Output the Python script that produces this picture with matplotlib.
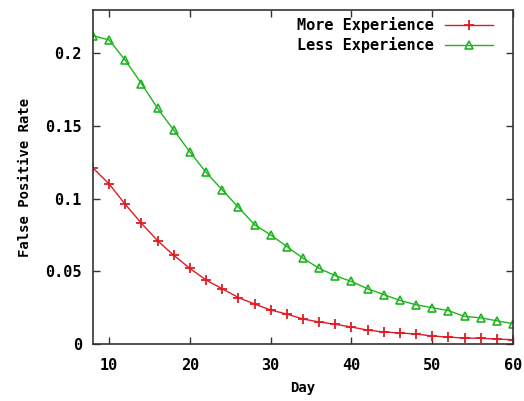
import matplotlib
matplotlib.use("Agg")
import matplotlib.pyplot as plt

days = list(range(8, 61, 2))
more_exp = [0.121, 0.110, 0.096, 0.083, 0.071, 0.061, 0.052, 0.044, 0.038, 0.032,
            0.0275, 0.0234, 0.0206, 0.0172, 0.0152, 0.0136, 0.0117, 0.0096, 0.0083,
            0.0076, 0.0069, 0.0055, 0.0048, 0.0041, 0.0040, 0.0034, 0.0030]
less_exp = [0.212, 0.209, 0.195, 0.179, 0.162, 0.147, 0.132, 0.118, 0.106, 0.094,
            0.082, 0.075, 0.067, 0.059, 0.052, 0.047, 0.043, 0.038, 0.034,
            0.030, 0.027, 0.025, 0.023, 0.019, 0.018, 0.016, 0.014]

yticks = [0, 0.05, 0.1, 0.15, 0.2]
ytick_labels = ["0", "0.05", "0.1", "0.15", "0.2"]
xticks = [10, 20, 30, 40, 50, 60]

plt.rcParams['font.family'] = ['DejaVu Sans Mono']
plt.rcParams['font.weight'] = 'bold'
plt.rcParams['font.size'] = 11

fig = plt.figure(figsize=(5.24, 4.01), dpi=100)
ax = fig.add_axes([0.1775, 0.142, 0.8015, 0.833])

ax.plot(days, more_exp, color='#e01b24', lw=1, marker='+', ms=7, mew=1.3,
        label='More Experience')
ax.plot(days, less_exp, color='#1fb51f', lw=1, marker='^', ms=6, mew=1.2,
        mfc='none', label='Less Experience')

ax.set_xlim(8, 60)
ax.set_ylim(0, 0.2296)
ax.set_xticks(xticks)
ax.set_yticks(yticks)
ax.set_yticklabels(ytick_labels)
ax.tick_params(direction='in', top=True, right=True, length=5, width=1,
               colors='#333333', labelcolor='black')
ax.tick_params(axis='x', pad=10)
ax.tick_params(axis='y', pad=8)
for s in ax.spines.values():
    s.set_color('#333333')
    s.set_linewidth(1.2)
ax.set_xlabel('Day', fontweight='bold', fontsize=10, labelpad=6)
ax.set_ylabel('False Positive Rate', fontweight='bold', fontsize=10, labelpad=10)

leg = ax.legend(loc='upper right', bbox_to_anchor=(0.952, 0.978), frameon=False,
                markerfirst=False, handlelength=3.1, borderpad=0,
                borderaxespad=0, labelspacing=0.25, handletextpad=0.75)
for t in leg.get_texts():
    t.set_fontweight('bold')

fig.savefig('out.png', dpi=100)
